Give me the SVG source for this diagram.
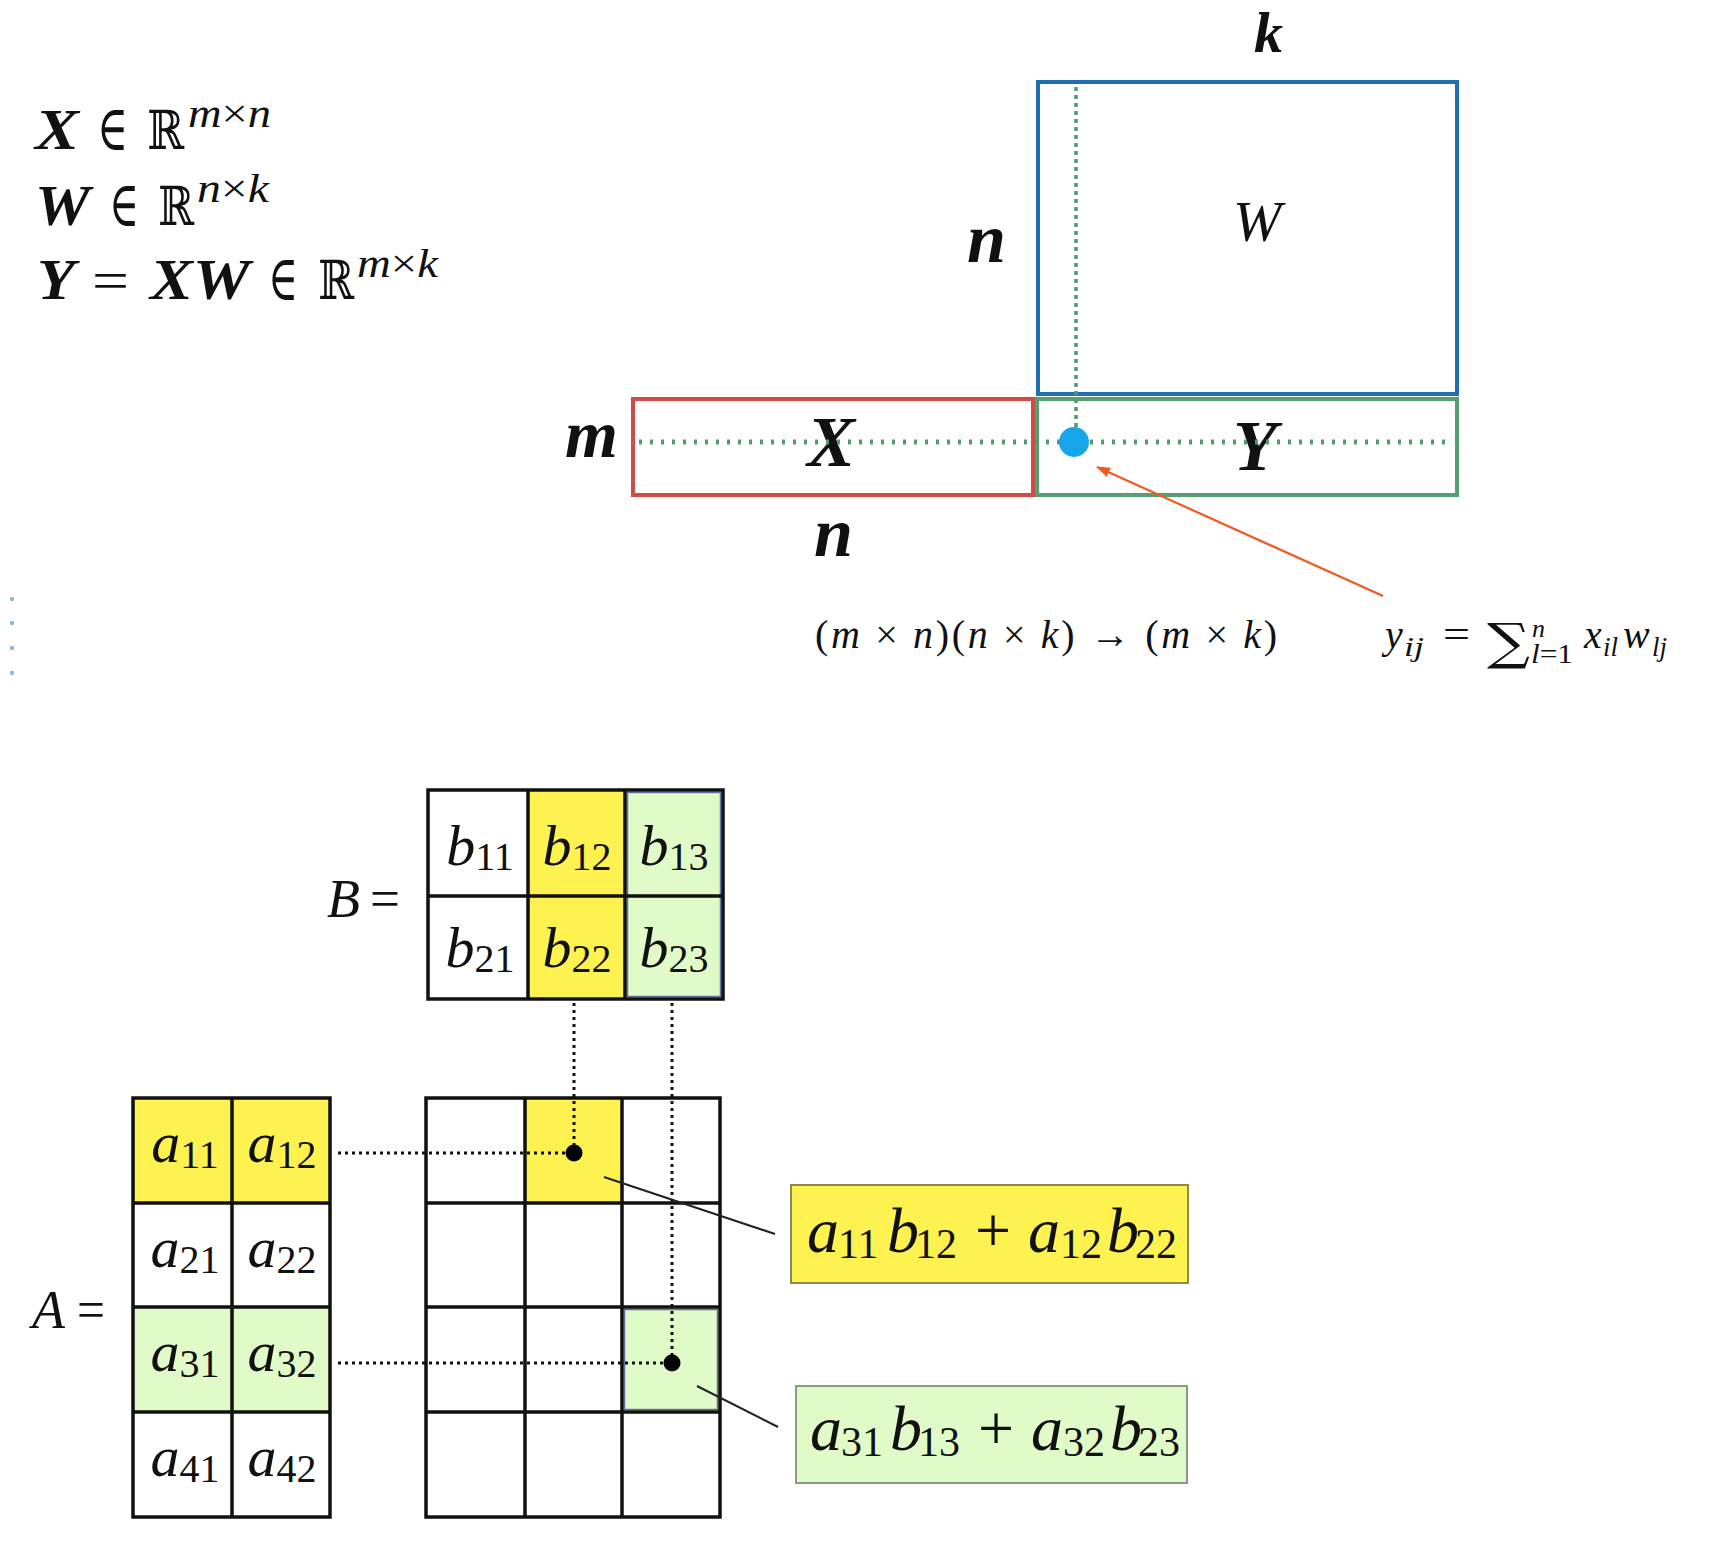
<svg xmlns="http://www.w3.org/2000/svg" width="1712" height="1552" viewBox="0 0 1712 1552">
<defs>
<style>
text { font-family: "Liberation Serif", "DejaVu Serif", serif; fill: #111; }
.it { font-style: italic; }
.bi { font-style: italic; font-weight: bold; }
.sym { font-family: "DejaVu Serif", "Liberation Serif", serif; }
.el { font-family: "DejaVu Serif", "Liberation Serif", serif; font-size: 64px; }
.grid { fill: none; stroke: #111; stroke-width: 3.5; }
.yel { fill: #fdf24f; }
.grn { fill: #e0fac8; }
.dotk { fill: none; stroke: #111; stroke-width: 3; stroke-dasharray: 3 4; }
.dotg { fill: none; stroke: #4f9c6e; stroke-width: 5; stroke-dasharray: 3 8; }
.dotgv { fill: none; stroke: #4f9c6e; stroke-width: 3.5; stroke-dasharray: 4 4; }
.leader { stroke: #222; stroke-width: 2; fill: none; }
</style>
<marker id="arr" markerWidth="14" markerHeight="10" refX="13" refY="5" orient="auto" markerUnits="userSpaceOnUse">
<path d="M0,0 L14,5 L0,10 z" fill="#f05a1e"/>
</marker>
</defs>
<rect width="1712" height="1552" fill="#ffffff"/>

<g id="defs-formulas">
<text class="bi" x="35" y="149" font-size="56" textLength="44" lengthAdjust="spacingAndGlyphs">X</text>
<text class="el" x="97" y="150" textLength="31" lengthAdjust="spacingAndGlyphs">∈</text>
<text class="sym" x="147" y="149" font-size="54" textLength="37" lengthAdjust="spacingAndGlyphs">ℝ</text>
<text x="188" y="127" font-size="40" textLength="83" lengthAdjust="spacingAndGlyphs"><tspan class="it">m</tspan>×<tspan class="it">n</tspan></text>

<text class="bi" x="35" y="225" font-size="56" textLength="55" lengthAdjust="spacingAndGlyphs">W</text>
<text class="el" x="109" y="226" textLength="30" lengthAdjust="spacingAndGlyphs">∈</text>
<text class="sym" x="158" y="225" font-size="54" textLength="36" lengthAdjust="spacingAndGlyphs">ℝ</text>
<text x="197" y="202" font-size="40" textLength="72" lengthAdjust="spacingAndGlyphs"><tspan class="it">n</tspan>×<tspan class="it">k</tspan></text>

<text class="bi" x="37" y="299" font-size="56" textLength="38" lengthAdjust="spacingAndGlyphs">Y</text>
<text x="92" y="299" font-size="54" textLength="37" lengthAdjust="spacingAndGlyphs">=</text>
<text class="bi" x="150" y="299" font-size="56" textLength="100" lengthAdjust="spacingAndGlyphs">XW</text>
<text class="el" x="268" y="300" textLength="30" lengthAdjust="spacingAndGlyphs">∈</text>
<text class="sym" x="318" y="299" font-size="54" textLength="36" lengthAdjust="spacingAndGlyphs">ℝ</text>
<text x="357" y="277" font-size="40" textLength="81" lengthAdjust="spacingAndGlyphs"><tspan class="it">m</tspan>×<tspan class="it">k</tspan></text>
</g>

<g id="left-dots" fill="#8fb8d8">
<circle cx="12" cy="599" r="2.2"/><circle cx="12" cy="623" r="2.2"/><circle cx="12" cy="648" r="2.2"/><circle cx="12" cy="673" r="2.2"/>
</g>

<g id="matrix-W">
<rect x="1038" y="82" width="419" height="312" fill="none" stroke="#1f6fb2" stroke-width="4"/>
<text class="it" x="1233" y="241" font-size="58">W</text>
<text class="bi" x="1254" y="52" font-size="58">k</text>
<text class="bi" x="967" y="262" font-size="70">n</text>
</g>

<g id="matrix-X">
<rect x="633" y="399" width="400" height="96" fill="none" stroke="#d24b4b" stroke-width="4"/>
<text class="bi" x="807" y="466" font-size="72">X</text>
<text class="bi" x="565" y="457" font-size="68">m</text>
<text class="bi" x="814" y="556" font-size="70">n</text>
</g>

<g id="matrix-Y">
<rect x="1037" y="399" width="420" height="96" fill="none" stroke="#56a070" stroke-width="4"/>
<text class="bi" x="1233" y="470" font-size="72">Y</text>
</g>

<g id="shape-formula">
<text x="815" y="648" font-size="40" textLength="462" lengthAdjust="spacing">(<tspan class="it">m</tspan> × <tspan class="it">n</tspan>)(<tspan class="it">n</tspan> × <tspan class="it">k</tspan>) → (<tspan class="it">m</tspan> × <tspan class="it">k</tspan>)</text>
</g>

<g id="sum-formula">
<text class="it" x="1385" y="648" font-size="40">y</text>
<text class="it" x="1404" y="656" font-size="27" textLength="20" lengthAdjust="spacingAndGlyphs">ij</text>
<text x="1443" y="648" font-size="40" textLength="27" lengthAdjust="spacingAndGlyphs">=</text>
<text class="sym" x="1487" y="659" font-size="50" textLength="43" lengthAdjust="spacingAndGlyphs">∑</text>
<text class="it" x="1532" y="637" font-size="26">n</text>
<text x="1531" y="663" font-size="27" textLength="42" lengthAdjust="spacingAndGlyphs"><tspan class="it">l</tspan>=1</text>
<text class="it" x="1584" y="648" font-size="40">x</text>
<text class="it" x="1603" y="656" font-size="27">il</text>
<text class="it" x="1623" y="648" font-size="40">w</text>
<text class="it" x="1652" y="656" font-size="27">lj</text>
</g>

<g id="matrix-B">
<rect class="yel" x="528" y="790" width="97" height="209"/>
<rect class="grn" x="625" y="790" width="98" height="209"/>
<rect x="627.5" y="792.5" width="93" height="204" fill="none" stroke="#6070a8" stroke-width="1.5"/>
<rect class="grid" x="428" y="790" width="295" height="209"/>
<path class="grid" d="M528,790 V999 M625,790 V999 M428,896 H723"/>
<g font-size="58" text-anchor="middle">
<text x="480" y="865"><tspan class="it">b</tspan><tspan font-size="40" dy="5">11</tspan></text>
<text x="577" y="865"><tspan class="it">b</tspan><tspan font-size="40" dy="5">12</tspan></text>
<text x="674" y="865"><tspan class="it">b</tspan><tspan font-size="40" dy="5">13</tspan></text>
<text x="480" y="967"><tspan class="it">b</tspan><tspan font-size="40" dy="5">21</tspan></text>
<text x="577" y="967"><tspan class="it">b</tspan><tspan font-size="40" dy="5">22</tspan></text>
<text x="674" y="967"><tspan class="it">b</tspan><tspan font-size="40" dy="5">23</tspan></text>
</g>
<text class="it" x="327" y="917" font-size="54">B</text>
<text x="370" y="917" font-size="54" textLength="30" lengthAdjust="spacingAndGlyphs">=</text>
</g>

<g id="matrix-A">
<rect class="yel" x="133" y="1098" width="197" height="105"/>
<rect class="grn" x="133" y="1307" width="197" height="105"/>
<rect class="grid" x="133" y="1098" width="197" height="419"/>
<path class="grid" d="M232,1098 V1517 M133,1203 H330 M133,1307 H330 M133,1412 H330"/>
<g font-size="58" text-anchor="middle">
<text x="185" y="1162"><tspan class="it">a</tspan><tspan font-size="40" dy="6">11</tspan></text>
<text x="282" y="1162"><tspan class="it">a</tspan><tspan font-size="40" dy="6">12</tspan></text>
<text x="185" y="1267"><tspan class="it">a</tspan><tspan font-size="40" dy="6">21</tspan></text>
<text x="282" y="1267"><tspan class="it">a</tspan><tspan font-size="40" dy="6">22</tspan></text>
<text x="185" y="1371"><tspan class="it">a</tspan><tspan font-size="40" dy="6">31</tspan></text>
<text x="282" y="1371"><tspan class="it">a</tspan><tspan font-size="40" dy="6">32</tspan></text>
<text x="185" y="1476"><tspan class="it">a</tspan><tspan font-size="40" dy="6">41</tspan></text>
<text x="282" y="1476"><tspan class="it">a</tspan><tspan font-size="40" dy="6">42</tspan></text>
</g>
<text class="it" x="32" y="1328" font-size="54">A</text>
<text x="77" y="1328" font-size="54" textLength="28" lengthAdjust="spacingAndGlyphs">=</text>
</g>

<g id="matrix-C">
<rect class="yel" x="525" y="1098" width="97" height="105"/>
<rect class="grn" x="622" y="1307" width="98" height="105"/>
<rect x="624.5" y="1309.5" width="93" height="100" fill="none" stroke="#6070a8" stroke-width="1.5"/>
<rect class="grid" x="426" y="1098" width="294" height="419"/>
<path class="grid" d="M525,1098 V1517 M622,1098 V1517 M426,1203 H720 M426,1307 H720 M426,1412 H720"/>
</g>

<g id="result-yellow">
<rect x="791" y="1185" width="397" height="98" fill="#fdf24f" stroke="#8c8a4a" stroke-width="2"/>
<text font-size="64"><tspan class="it" x="807" y="1252">a</tspan><tspan font-size="42" x="838" y="1258">11</tspan><tspan class="it" x="887" y="1252">b</tspan><tspan font-size="42" x="915" y="1258">12</tspan><tspan x="975" y="1252">+</tspan><tspan class="it" x="1028" y="1252">a</tspan><tspan font-size="42" x="1060" y="1258">12</tspan><tspan class="it" x="1107" y="1252">b</tspan><tspan font-size="42" x="1135" y="1258">22</tspan></text>
</g>

<g id="result-green">
<rect x="796" y="1386" width="391" height="97" fill="#e0fac8" stroke="#8a9a84" stroke-width="2"/>
<text font-size="64"><tspan class="it" x="810" y="1450">a</tspan><tspan font-size="42" x="841" y="1456">31</tspan><tspan class="it" x="890" y="1450">b</tspan><tspan font-size="42" x="918" y="1456">13</tspan><tspan x="978" y="1450">+</tspan><tspan class="it" x="1031" y="1450">a</tspan><tspan font-size="42" x="1063" y="1456">32</tspan><tspan class="it" x="1110" y="1450">b</tspan><tspan font-size="42" x="1138" y="1456">23</tspan></text>
</g>

<g id="connectors">
<line class="dotgv" x1="1076" y1="87" x2="1076" y2="432"/>
<line class="dotg" x1="639" y1="442" x2="1453" y2="442"/>
<circle cx="1074" cy="442" r="15" fill="#17a6ea"/>
<line x1="1383" y1="596" x2="1097" y2="467" stroke="#f05a1e" stroke-width="2.2" marker-end="url(#arr)"/>
<line class="dotk" x1="338" y1="1153" x2="574" y2="1153"/>
<line class="dotk" x1="574" y1="1003" x2="574" y2="1153"/>
<line class="dotk" x1="338" y1="1363" x2="672" y2="1363"/>
<line class="dotk" x1="672" y1="1003" x2="672" y2="1363"/>
<circle cx="574" cy="1153" r="8.5" fill="#000"/>
<circle cx="672" cy="1363" r="8.5" fill="#000"/>
<line class="leader" x1="604" y1="1177" x2="775" y2="1234"/>
<line class="leader" x1="697" y1="1386" x2="778" y2="1427"/>
</g>
</svg>
